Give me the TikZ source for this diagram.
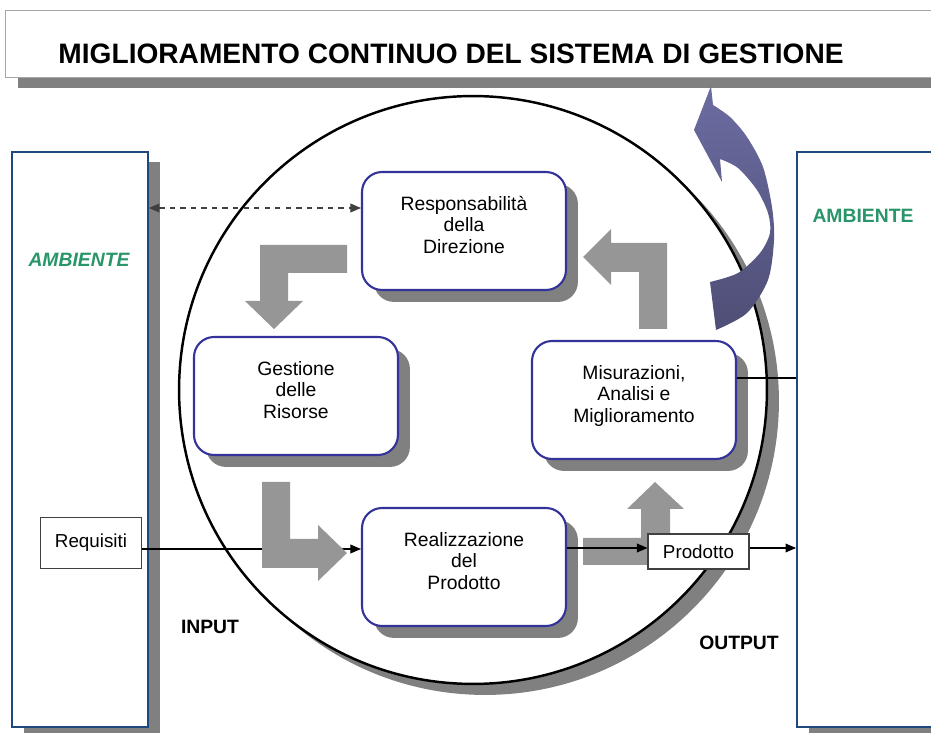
\documentclass[tikz,border=0pt]{standalone}
\usepackage{fontspec}
\setmainfont{Liberation Sans}
\usetikzlibrary{arrows.meta,shadows}

\definecolor{bordoblu}{RGB}{51,51,153}
\definecolor{bordopannello}{RGB}{31,73,125}
\definecolor{ombra}{RGB}{128,128,128}
\definecolor{frecciagrigia}{RGB}{150,150,150}
\definecolor{verdeamb}{RGB}{40,150,105}
\definecolor{violaalto}{RGB}{108,108,162}
\definecolor{violabasso}{RGB}{78,78,118}
\definecolor{tratteggio}{RGB}{64,64,64}

\tikzset{
  blocco/.style={draw=bordoblu, line width=1.2pt, fill=white, rounded corners=0.4cm,
    minimum width=4.08cm, minimum height=2.36cm, align=center, text depth=7pt,
    font=\fontsize{11}{12.2}\selectfont,
    general shadow={fill=ombra, shadow xshift=6.8pt, shadow yshift=-6.8pt}},
  pannello/.style={draw=bordopannello, line width=1.1pt, fill=white, inner sep=0pt,
    general shadow={fill=ombra, shadow xshift=6.8pt, shadow yshift=-5.7pt}},
  etichetta/.style={draw=black!75, fill=white, line width=0.6pt, minimum width=2.02cm,
    font=\fontsize{10.7}{12}\selectfont},
  freccia/.style={-{Triangle[length=6pt,width=5pt]}, line width=0.6pt},
  grigia/.style={fill=frecciagrigia},
  ambiente/.style={text=verdeamb, font=\fontsize{11}{13}\selectfont\bfseries},
  io/.style={font=\fontsize{11}{13}\selectfont\bfseries},
}

\begin{document}
\begin{tikzpicture}[x=0.02cm,y=-0.02cm]
  \useasboundingbox (0,0) rectangle (931,733);

  % titolo
  \fill[ombra] (18,21) rectangle (960,88);
  \draw[black!35, fill=white, line width=0.5pt] (5,10) rectangle (950,77);
  \node[font=\fontsize{16}{19}\selectfont\bfseries] (titolo) at (451,54) {MIGLIORAMENTO CONTINUO DEL SISTEMA DI GESTIONE};

  % ambiente
  \node[pannello, minimum width=2.72cm, minimum height=11.5cm] (ambsx) at (80,439.5) {};
  \node[pannello, minimum width=3.0cm, minimum height=11.5cm] (ambdx) at (872,439.5) {};
  \node[ambiente, font=\fontsize{11}{13}\selectfont\bfseries\itshape] (ambsxtesto) at (79,260) {AMBIENTE};
  \node[ambiente] (ambdxtesto) at (863,216) {AMBIENTE};

  % cerchio
  \fill[ombra] (485,401) circle[radius=5.88cm];
  \draw[line width=1.4pt, fill=white] (473,390) circle[radius=5.88cm];

  \node[blocco] (resp) at (464,231) {Responsabilità\\della\\Direzione};
  \node[blocco] (gest) at (296,396) {Gestione\\delle\\Risorse};
  \node[blocco] (misura) at (634,400) {Misurazioni,\\Analisi e\\Miglioramento};
  \node[blocco] (realiz) at (464,567) {Realizzazione\\del\\Prodotto};

  \node[etichetta, minimum height=1.02cm] (req) at (91,543) {Requisiti};
  \draw[freccia] (req.east |- 0,549) -- (realiz.west |- 0,549);

  % frecce grigie
  \fill[grigia] (347,245) -- (260,245) -- (260,301) -- (245,301) -- (274,329) -- (303,301) -- (288,301) -- (288,273) -- (347,273) -- cycle;
  \fill[grigia] (262,482) -- (290,482) -- (290,539) -- (318,539) -- (318,525) -- (347,553) -- (318,581) -- (318,568) -- (262,568) -- cycle;
  \fill[grigia] (583,538) -- (641,538) -- (641,509) -- (627,509) -- (655,482) -- (684,509) -- (670,509) -- (670,565) -- (583,565) -- cycle;
  \fill[grigia] (583,257) -- (611,229) -- (611,243) -- (667,243) -- (667,329) -- (639,329) -- (639,272) -- (611,272) -- (611,285) -- cycle;

  \node[etichetta, minimum height=0.7cm] (prod) at (698.5,551.5) {Prodotto};
  \draw[freccia] (realiz.east |- 0,548) -- (prod.west |- 0,548);
  \draw[freccia] (prod.east |- 0,548) -- (ambdx.west |- 0,548);
  \draw[line width=0.6pt] (misura.east |- 0,378) -- (ambdx.west |- 0,378);
  \draw[tratteggio, dashed, line width=0.6pt, {Triangle[length=6pt,width=5pt]}-{Triangle[length=6pt,width=5pt]}] (ambsx.east |- 0,208) -- (resp.west |- 0,208);

  % freccia curva
  \shade[top color=violaalto, bottom color=violabasso]
    (711,86) -- (694,130) -- (722,182) -- (720,159)
    -- plot[smooth] coordinates {(720,159) (738,168) (757,190) (768,213) (770,233) (760,253) (738,273) (710,282)}
    -- (716,330)
    -- plot[smooth] coordinates {(716,330) (747,313) (768,280) (774,240) (772,207) (763,167) (747,137) (730,117) (713,105)}
    -- cycle;

  \node[io] (input) at (210,627) {INPUT};
  \node[io] (output) at (739,643) {OUTPUT};
\end{tikzpicture}
\end{document}
